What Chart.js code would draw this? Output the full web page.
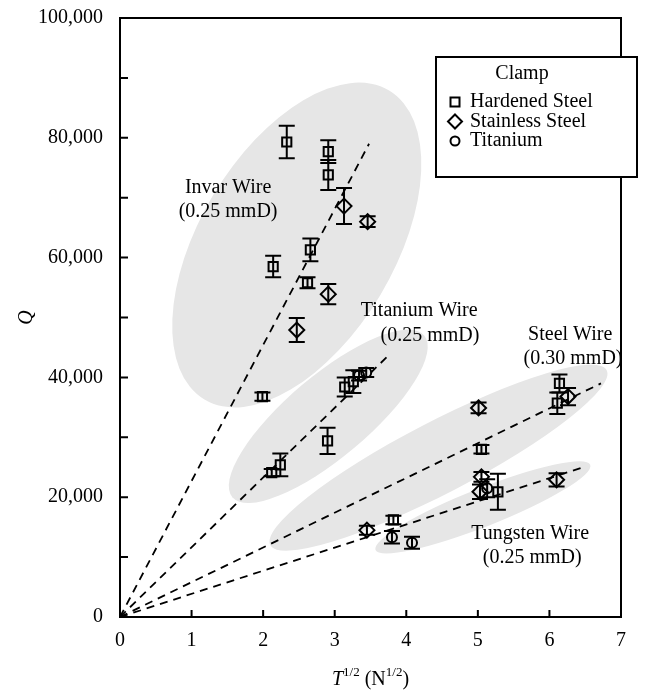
<!DOCTYPE html>
<html>
<head>
<meta charset="utf-8">
<script src="https://cdn.jsdelivr.net/npm/chart.js@4"></script>
<style>
  body { margin: 0; background: #fff; }
  #wrap { width: 656px; height: 694px; }
</style>
</head>
<body>
<div id="wrap"><canvas id="myChart" width="656" height="694"></canvas></div>
<script>
// Hardened Steel clamp (squares): x = T^1/2, y = Q, err = half error bar
const hardX = [2.33, 2.91, 2.91, 2.66, 2.14, 2.62, 1.99, 3.14, 3.26, 2.90, 2.24, 2.12, 5.05, 6.14, 6.11, 5.28, 3.82];
const hardY = [79300, 77700, 73800, 61300, 58500, 55800, 36800, 38400, 39300, 29400, 25400, 24100, 28000, 39000, 35700, 20900, 16200];
const hardErr = [2700, 1900, 2500, 1900, 1800, 900, 700, 1600, 1900, 2200, 1900, 600, 700, 1500, 1800, 3000, 700];

// Stainless Steel clamp (diamonds)
const stainX = [3.13, 3.46, 2.91, 2.47, 5.01, 6.26, 5.05, 5.03, 6.10, 3.45];
const stainY = [68600, 66000, 53900, 47900, 34900, 36800, 23400, 20900, 22900, 14500];
const stainErr = [3000, 900, 1700, 2000, 900, 1450, 800, 1200, 1100, 750];

// Titanium clamp (circles)
const titX = [3.34, 3.44, 3.80, 4.08, 5.13];
const titY = [40300, 40800, 13300, 12400, 21500];
const titErr = [800, 750, 1050, 1000, 1500];

// Dashed fit lines from the origin, one per wire
const fitEndX = [3.48, 3.78, 6.72, 6.50];
const fitEndY = [79000, 44000, 39000, 25100];

// Grey regions: centre, end of long axis, end of short axis (data units)
const regionCx = [2.47, 2.91, 4.45, 5.07];
const regionCy = [62100, 33500, 26600, 18300];
const regionLongX = [3.76, 4.25, 6.80, 6.57];
const regionLongY = [87900, 47000, 41200, 25400];
const regionShortX = [3.64, 3.28, 4.68, 5.16];
const regionShortY = [53800, 28300, 21300, 15300];

// Wire labels
const noteText = ['Invar Wire', '(0.25 mmD)', 'Titanium Wire', '(0.25 mmD)', 'Steel Wire', '(0.30 mmD)', 'Tungsten Wire', '(0.25 mmD)'];
const noteX = [1.51, 1.51, 4.18, 4.33, 6.29, 6.33, 5.73, 5.76];
const noteY = [71600, 67600, 51100, 46900, 47100, 43100, 13850, 9850];

// Axis ticks
const xTicks = [0, 1, 2, 3, 4, 5, 6, 7];
const yMajor = [0, 20000, 40000, 60000, 80000, 100000];

const legendTitle = 'Clamp';
const legendNames = ['Hardened Steel', 'Stainless Steel', 'Titanium'];

const FONT = '"Liberation Serif", "Times New Roman", serif';

function puntos(xs, ys) {
    const out = [];
    for (let i = 0; i < xs.length; i++) out.push({x: xs[i], y: ys[i]});
    return out;
}

// marker drawn by hand for the legend
function marca(ctx, tipo, x, y) {
    ctx.beginPath();
    if (tipo === 0) ctx.rect(x - 4.5, y - 4.5, 9, 9);
    else if (tipo === 1) { ctx.moveTo(x, y - 7); ctx.lineTo(x + 7, y); ctx.lineTo(x, y + 7); ctx.lineTo(x - 7, y); ctx.closePath(); }
    else ctx.arc(x, y, 4.5, 0, Math.PI * 2);
    ctx.stroke();
}

const extras = {
    id: 'extras',
    beforeDatasetsDraw(chart) {
        const {ctx, scales: {x, y}} = chart;
        ctx.save();
        ctx.fillStyle = '#e6e6e6';
        for (let i = 0; i < regionCx.length; i++) {
            const cx = x.getPixelForValue(regionCx[i]);
            const cy = y.getPixelForValue(regionCy[i]);
            const ax = x.getPixelForValue(regionLongX[i]) - cx;
            const ay = y.getPixelForValue(regionLongY[i]) - cy;
            const bx = x.getPixelForValue(regionShortX[i]) - cx;
            const by = y.getPixelForValue(regionShortY[i]) - cy;
            ctx.beginPath();
            ctx.ellipse(cx, cy, Math.hypot(ax, ay), Math.hypot(bx, by), Math.atan2(ay, ax), 0, Math.PI * 2);
            ctx.fill();
        }
        ctx.restore();
    },
    afterDatasetsDraw(chart) {
        const {ctx, scales: {x, y}} = chart;
        ctx.save();
        ctx.strokeStyle = '#000';
        ctx.lineWidth = 2;
        const series = [[hardX, hardY, hardErr], [stainX, stainY, stainErr], [titX, titY, titErr]];
        series.forEach(s => {
            for (let i = 0; i < s[0].length; i++) {
                const px = x.getPixelForValue(s[0][i]);
                const top = y.getPixelForValue(s[1][i] + s[2][i]);
                const bot = y.getPixelForValue(s[1][i] - s[2][i]);
                ctx.beginPath();
                ctx.moveTo(px, top); ctx.lineTo(px, bot);
                ctx.moveTo(px - 8, top); ctx.lineTo(px + 8, top);
                ctx.moveTo(px - 8, bot); ctx.lineTo(px + 8, bot);
                ctx.stroke();
            }
        });
        ctx.restore();
    },
    afterDraw(chart) {
        const {ctx, chartArea: a, scales: {x, y}} = chart;
        ctx.save();
        ctx.strokeStyle = '#000';
        ctx.fillStyle = '#000';
        ctx.lineWidth = 2;

        // frame
        ctx.strokeRect(a.left, a.top, a.right - a.left, a.bottom - a.top);

        // inward ticks
        ctx.beginPath();
        for (let v = 10000; v < 100000; v += 10000) {
            const py = y.getPixelForValue(v);
            ctx.moveTo(a.left, py); ctx.lineTo(a.left + 8, py);
        }
        xTicks.slice(1, -1).forEach(v => {
            const px = x.getPixelForValue(v);
            ctx.moveTo(px, a.bottom); ctx.lineTo(px, a.bottom - 7);
        });
        ctx.stroke();

        // wire labels
        ctx.font = '20px ' + FONT;
        ctx.textAlign = 'center';
        ctx.textBaseline = 'middle';
        for (let i = 0; i < noteText.length; i++) {
            ctx.fillText(noteText[i], x.getPixelForValue(noteX[i]), y.getPixelForValue(noteY[i]));
        }

        // legend
        const lx = a.right - 185, ly = a.top + 39;
        ctx.fillStyle = '#fff';
        ctx.fillRect(lx, ly, 201, 120);
        ctx.strokeRect(lx, ly, 201, 120);
        ctx.fillStyle = '#000';
        ctx.fillText(legendTitle, lx + 86, ly + 17);
        ctx.textAlign = 'left';
        legendNames.forEach((n, i) => {
            const yy = ly + 45 + i * 19.5;
            marca(ctx, i, lx + 19, yy);
            ctx.fillText(n, lx + 34, yy);
        });

        // x axis title with superscripts
        const base = 685;
        ctx.textBaseline = 'alphabetic';
        const parts = [['T', 'italic 20px ', 0], ['1/2', '13px ', -9], [' (N', '20px ', 0], ['1/2', '13px ', -9], [')', '20px ', 0]];
        let total = 0;
        parts.forEach(p => { ctx.font = p[1] + FONT; total += ctx.measureText(p[0]).width; });
        let cx = (a.left + a.right) / 2 - total / 2;
        parts.forEach(p => {
            ctx.font = p[1] + FONT;
            ctx.fillText(p[0], cx, base + p[2]);
            cx += ctx.measureText(p[0]).width;
        });

        // y axis title
        ctx.translate(27, (a.top + a.bottom) / 2);
        ctx.rotate(-Math.PI / 2);
        ctx.font = 'italic 20px ' + FONT;
        ctx.textAlign = 'center';
        ctx.textBaseline = 'middle';
        ctx.fillText('Q', 0, 0);
        ctx.restore();
    }
};

Chart.defaults.font.family = FONT;
Chart.defaults.font.size = 20;
Chart.defaults.color = '#000';

const fitSets = fitEndX.map((ex, i) => ({
    type: 'line',
    data: [{x: 0, y: 0}, {x: ex, y: fitEndY[i]}],
    borderColor: '#000',
    borderWidth: 1.8,
    borderDash: [8, 6],
    pointRadius: 0,
    showLine: true,
    fill: false
}));

const ctx = document.getElementById('myChart');

new Chart(ctx, {
    type: 'scatter',
    data: {
        datasets: [
            {label: legendNames[0], data: puntos(hardX, hardY), pointStyle: 'rect', pointRadius: 6.5,
             borderColor: '#000', backgroundColor: 'rgba(0,0,0,0)', borderWidth: 2},
            {label: legendNames[1], data: puntos(stainX, stainY), pointStyle: 'rectRot', pointRadius: 7.5,
             borderColor: '#000', backgroundColor: 'rgba(0,0,0,0)', borderWidth: 2},
            {label: legendNames[2], data: puntos(titX, titY), pointStyle: 'circle', pointRadius: 5,
             borderColor: '#000', backgroundColor: 'rgba(0,0,0,0)', borderWidth: 2}
        ].concat(fitSets)
    },
    options: {
        responsive: false,
        animation: false,
        layout: {padding: {top: 18, right: 35, left: 0, bottom: 0}},
        plugins: {legend: {display: false}, tooltip: {enabled: false}},
        scales: {
            x: {
                type: 'linear', min: 0, max: 7,
                afterFit: s => { s.height = 77; s.paddingLeft = 0; s.paddingRight = 0; },
                afterBuildTicks: s => { s.ticks = xTicks.map(v => ({value: v})); },
                ticks: {padding: 12, maxRotation: 0, callback: v => String(v)},
                grid: {display: false, drawTicks: false, tickLength: 0},
                border: {display: false}
            },
            y: {
                type: 'linear', min: 0, max: 100000,
                afterFit: s => { s.width = 120; s.paddingTop = 0; s.paddingBottom = 0; },
                afterBuildTicks: s => { s.ticks = yMajor.map(v => ({value: v})); },
                ticks: {padding: 17, callback: v => v.toLocaleString('en-US')},
                grid: {display: false, drawTicks: false, tickLength: 0},
                border: {display: false}
            }
        }
    },
    plugins: [extras]
});
</script>
</body>
</html>
